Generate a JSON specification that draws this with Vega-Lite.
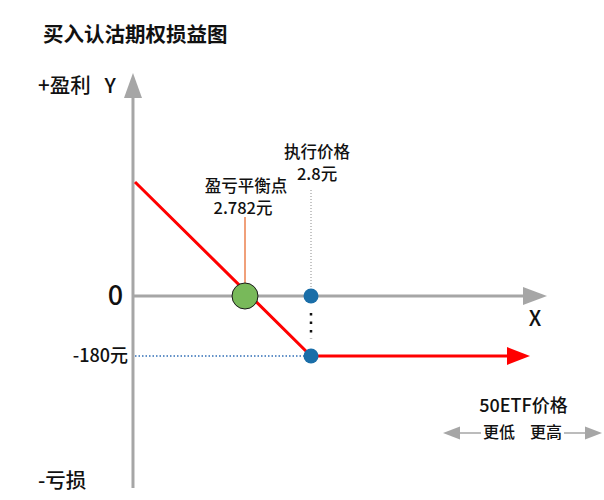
{
  "$schema": "https://vega.github.io/schema/vega-lite/v6.json",
  "description": "Payoff diagram of buying a 50ETF put option (schematic): strike 2.8, premium 180 yuan, breakeven 2.782.",
  "width": 604,
  "height": 500,
  "padding": 0,
  "autosize": {"type": "fit", "contains": "padding"},
  "background": "white",
  "config": {"view": {"stroke": null}, "font": "Noto Sans CJK SC"},
  "encoding": {
    "x": {"field": "price", "type": "quantitative", "scale": {"domain": [2.71518, 2.87991], "nice": false, "zero": false}, "axis": null},
    "y": {"field": "profit", "type": "quantitative", "scale": {"domain": [-612, 888], "nice": false, "zero": false}, "axis": null}
  },
  "layer": [
    {
      "data": {"values": [
        {"part": "x", "price": 2.75145, "price2": 2.85782, "profit": 0, "profit2": 0},
        {"part": "y", "price": 2.75145, "price2": 2.75145, "profit": 594, "profit2": -576}
      ]},
      "mark": {"type": "rule", "color": "#a6a6a6", "strokeWidth": 3},
      "encoding": {"x2": {"field": "price2"}, "y2": {"field": "profit2"}}
    },
    {
      "data": {"values": [{"price": 2.75145, "profit": 631.5}]},
      "mark": {"type": "point", "shape": "M0,-1L0.72,1L-0.72,1Z", "size": 625, "filled": true, "color": "#a6a6a6", "opacity": 1}
    },
    {
      "data": {"values": [{"price": 2.86109, "profit": 0}]},
      "mark": {"type": "point", "shape": "M1,0L-1,0.75L-1,-0.75Z", "size": 576, "filled": true, "color": "#a6a6a6", "opacity": 1}
    },
    {
      "data": {"values": [
        {"price": 2.782, "price2": 2.782, "profit": 237, "profit2": 39}
      ]},
      "mark": {"type": "rule", "color": "#f0a07a", "strokeWidth": 2},
      "encoding": {"x2": {"field": "price2"}, "y2": {"field": "profit2"}}
    },
    {
      "data": {"values": [
        {"price": 2.8, "price2": 2.8, "profit": 318, "profit2": 21}
      ]},
      "mark": {"type": "rule", "color": "#8c8c8c", "strokeWidth": 1, "strokeDash": [1, 2]},
      "encoding": {"x2": {"field": "price2"}, "y2": {"field": "profit2"}}
    },
    {
      "data": {"values": [
        {"price": 2.8, "price2": 2.8, "profit": -51, "profit2": -128}
      ]},
      "mark": {"type": "rule", "color": "#111111", "strokeWidth": 2.5, "strokeDash": [2.5, 6]},
      "encoding": {"x2": {"field": "price2"}, "y2": {"field": "profit2"}}
    },
    {
      "data": {"values": [
        {"price": 2.752, "price2": 2.79836, "profit": -180, "profit2": -180}
      ]},
      "mark": {"type": "rule", "color": "#2f6db5", "strokeWidth": 1.5, "strokeDash": [1.5, 2]},
      "encoding": {"x2": {"field": "price2"}, "y2": {"field": "profit2"}}
    },
    {
      "data": {"values": [
        {"step": 1, "price": 2.752, "profit": 342},
        {"step": 2, "price": 2.8, "profit": -180},
        {"step": 3, "price": 2.85345, "profit": -180}
      ]},
      "mark": {"type": "line", "color": "#ff0000", "strokeWidth": 3},
      "encoding": {"order": {"field": "step"}}
    },
    {
      "data": {"values": [{"price": 2.85659, "profit": -180}]},
      "mark": {"type": "point", "shape": "M1,0L-1,0.78L-1,-0.78Z", "size": 529, "filled": true, "color": "#ff0000", "opacity": 1}
    },
    {
      "data": {"values": [{"price": 2.782, "profit": 0}]},
      "mark": {"type": "point", "shape": "circle", "size": 676, "filled": true, "fill": "#78b95a", "stroke": "#1a1a1a", "strokeWidth": 1, "opacity": 1}
    },
    {
      "data": {"values": [{"price": 2.8, "profit": 0}, {"price": 2.8, "profit": -180}]},
      "mark": {"type": "point", "shape": "circle", "size": 225, "filled": true, "color": "#1a6ea8", "opacity": 1}
    },
    {
      "data": {"values": [{"text": "买入认沽期权损益图", "price": 2.72691, "profit": 780}]},
      "mark": {"type": "text", "align": "left", "baseline": "middle", "fontSize": 20.5, "fontWeight": "bold", "color": "#111111"},
      "encoding": {"text": {"field": "text"}}
    },
    {
      "data": {"values": [
        {"text": "+盈利\u00a0\u00a0\u00a0Y", "price": 2.72555, "profit": 627},
        {"text": "-亏损", "price": 2.72555, "profit": -558}
      ]},
      "mark": {"type": "text", "align": "left", "baseline": "middle", "fontSize": 20.5, "fontWeight": 500, "color": "#111111"},
      "encoding": {"text": {"field": "text"}}
    },
    {
      "data": {"values": [{"text": "X", "price": 2.86109, "profit": -72}]},
      "mark": {"type": "text", "align": "center", "baseline": "middle", "fontSize": 21, "fontWeight": 500, "color": "#111111"},
      "encoding": {"text": {"field": "text"}}
    },
    {
      "data": {"values": [{"text": "0", "price": 2.74668, "profit": -3}]},
      "mark": {"type": "text", "align": "center", "baseline": "middle", "fontSize": 27, "fontWeight": 500, "color": "#111111"},
      "encoding": {"text": {"field": "text"}}
    },
    {
      "data": {"values": [{"text": "-180元", "price": 2.75009, "profit": -183}]},
      "mark": {"type": "text", "align": "right", "baseline": "middle", "fontSize": 18, "fontWeight": 500, "color": "#111111"},
      "encoding": {"text": {"field": "text"}}
    },
    {
      "data": {"values": [
        {"text": "执行价格", "price": 2.80164, "profit": 429},
        {"text": "2.8元", "price": 2.80164, "profit": 363},
        {"text": "盈亏平衡点", "price": 2.78227, "profit": 327},
        {"text": "2.782元", "price": 2.78145, "profit": 261}
      ]},
      "mark": {"type": "text", "align": "center", "baseline": "middle", "fontSize": 16.5, "fontWeight": 500, "color": "#111111"},
      "encoding": {"text": {"field": "text"}}
    },
    {
      "data": {"values": [{"text": "50ETF价格", "price": 2.85795, "profit": -333}]},
      "mark": {"type": "text", "align": "center", "baseline": "middle", "fontSize": 18, "fontWeight": 500, "color": "#111111"},
      "encoding": {"text": {"field": "text"}}
    },
    {
      "data": {"values": [
        {"text": "更低", "price": 2.85127, "profit": -411},
        {"text": "更高", "price": 2.86409, "profit": -411}
      ]},
      "mark": {"type": "text", "align": "center", "baseline": "middle", "fontSize": 16, "fontWeight": 500, "color": "#111111"},
      "encoding": {"text": {"field": "text"}}
    },
    {
      "data": {"values": [
        {"price": 2.84009, "price2": 2.84636, "profit": -411, "profit2": -411},
        {"price": 2.869, "price2": 2.87555, "profit": -411, "profit2": -411}
      ]},
      "mark": {"type": "rule", "color": "#a6a6a6", "strokeWidth": 1.5},
      "encoding": {"x2": {"field": "price2"}, "y2": {"field": "profit2"}}
    },
    {
      "data": {"values": [{"price": 2.83832, "profit": -411}]},
      "mark": {"type": "point", "shape": "M-1,0L1,-0.76L1,0.76Z", "size": 289, "filled": true, "color": "#a6a6a6", "opacity": 1}
    },
    {
      "data": {"values": [{"price": 2.87705, "profit": -411}]},
      "mark": {"type": "point", "shape": "M1,0L-1,0.76L-1,-0.76Z", "size": 289, "filled": true, "color": "#a6a6a6", "opacity": 1}
    }
  ]
}
